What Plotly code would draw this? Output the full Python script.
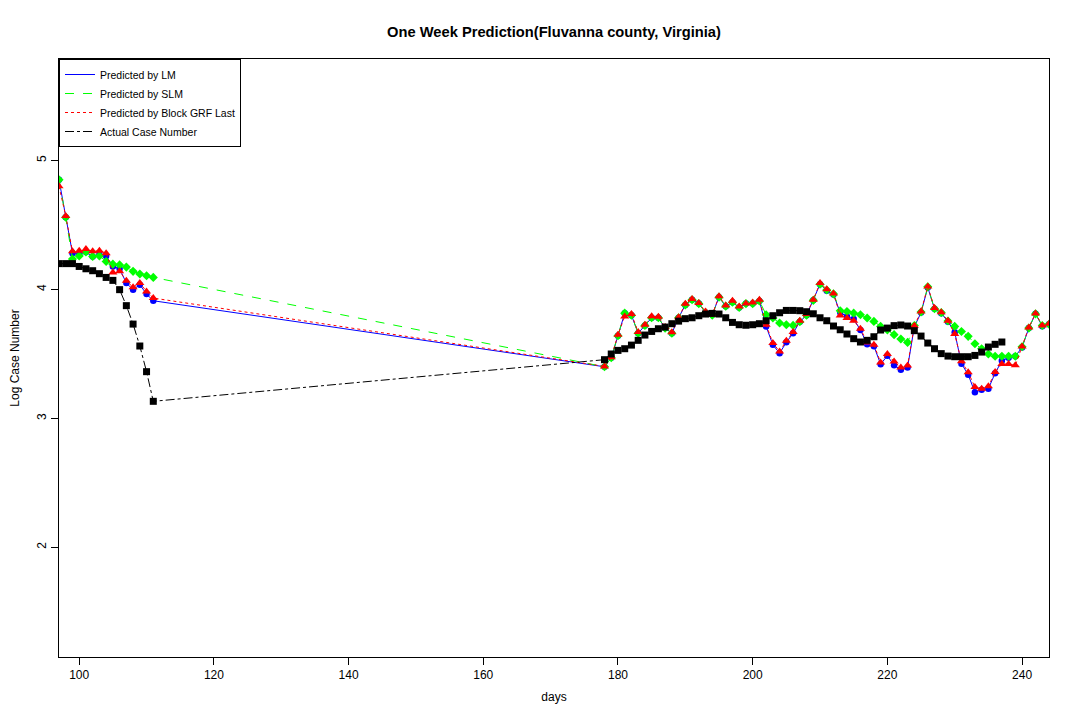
import plotly.graph_objects as go

# ---------------- data ----------------
days_left = list(range(97, 112))
days_right_pred = list(range(178, 245))
days_right_act = list(range(178, 238))

pred_days = days_left + days_right_pred
act_days = days_left + days_right_act

actual_left = [4.20, 4.20, 4.20, 4.178, 4.16, 4.145, 4.122, 4.093, 4.07, 3.998,
               3.874, 3.731, 3.561, 3.362, 3.132]
actual_right = [3.455, 3.499, 3.527, 3.540, 3.568, 3.605, 3.646, 3.674, 3.695, 3.708,
                3.734, 3.754, 3.773, 3.780, 3.796, 3.809, 3.814, 3.809, 3.780, 3.744,
                3.726, 3.722, 3.726, 3.734, 3.757, 3.796, 3.819, 3.837, 3.837, 3.835,
                3.827, 3.811, 3.780, 3.757, 3.716, 3.687, 3.654, 3.618, 3.592, 3.605,
                3.633, 3.685, 3.700, 3.719, 3.724, 3.716, 3.680, 3.638, 3.584, 3.540,
                3.502, 3.483, 3.478, 3.478, 3.478, 3.488, 3.514, 3.553, 3.574, 3.592]

lm_left = [4.85, 4.56, 4.28, 4.27, 4.29, 4.256, 4.27, 4.26, 4.178, 4.16,
           4.049, 3.998, 4.036, 3.964, 3.912]
lm_right = [3.40, 3.47, 3.64, 3.816, 3.80, 3.66, 3.72, 3.78, 3.78, 3.70,
            3.66, 3.78, 3.88, 3.92, 3.89, 3.82, 3.804, 3.94, 3.87, 3.90,
            3.86, 3.89, 3.89, 3.91, 3.713, 3.57, 3.505, 3.59, 3.66, 3.75,
            3.80, 3.915, 4.04, 3.99, 3.96, 3.82, 3.79, 3.77, 3.685, 3.575,
            3.56, 3.42, 3.485, 3.411, 3.377, 3.395, 3.71, 3.82, 4.015, 3.85,
            3.815, 3.75, 3.668, 3.424, 3.339, 3.202, 3.222, 3.23, 3.35, 3.447,
            3.47, 3.481, 3.55, 3.70, 3.811, 3.715, 3.73]

slm_left = [4.85, 4.56, 4.235, 4.26, 4.29, 4.256, 4.26, 4.217, 4.196, 4.19,
            4.173, 4.14, 4.12, 4.106, 4.093]
slm_right = [3.40, 3.47, 3.64, 3.816, 3.80, 3.66, 3.72, 3.78, 3.78, 3.70,
             3.66, 3.78, 3.88, 3.92, 3.89, 3.82, 3.80, 3.94, 3.87, 3.90,
             3.86, 3.89, 3.89, 3.91, 3.804, 3.778, 3.739, 3.726, 3.721, 3.75,
             3.80, 3.915, 4.04, 3.995, 3.965, 3.835, 3.829, 3.816, 3.804, 3.778,
             3.752, 3.713, 3.685, 3.649, 3.615, 3.589, 3.72, 3.825, 4.02, 3.85,
             3.82, 3.755, 3.713, 3.674, 3.636, 3.579, 3.540, 3.499, 3.481, 3.481,
             3.481, 3.481, 3.555, 3.70, 3.81, 3.72, 3.73]

grf_left = [4.80, 4.57, 4.295, 4.30, 4.313, 4.295, 4.30, 4.281, 4.132, 4.14,
            4.067, 4.016, 4.05, 3.984, 3.933]
grf_right = [3.403, 3.473, 3.649, 3.79, 3.809, 3.669, 3.726, 3.791, 3.788, 3.708,
             3.667, 3.785, 3.889, 3.925, 3.894, 3.829, 3.804, 3.946, 3.876, 3.912,
             3.868, 3.89, 3.899, 3.920, 3.726, 3.584, 3.519, 3.602, 3.669, 3.757,
             3.809, 3.920, 4.049, 4.002, 3.969, 3.798, 3.778, 3.757, 3.695, 3.589,
             3.571, 3.434, 3.499, 3.44, 3.395, 3.409, 3.718, 3.829, 4.023, 3.855,
             3.822, 3.757, 3.654, 3.442, 3.357, 3.243, 3.230, 3.248, 3.359, 3.421,
             3.421, 3.411, 3.558, 3.705, 3.814, 3.72, 3.733]

x_ticks = [100, 120, 140, 160, 180, 200, 220, 240]
y_ticks = [2, 3, 4, 5]

title_text = "One Week Prediction(Fluvanna county, Virginia)"
x_title = "days"
y_title = "Log Case Number"

series = [
    ("Predicted by LM", lm_left + lm_right, pred_days, "#0000FF", "solid", "circle", 6.5),
    ("Predicted by SLM", slm_left + slm_right, pred_days, "#00FF00", "dash", "diamond", 7),
    ("Predicted by Block GRF Last", grf_left + grf_right, pred_days, "#FF0000", "dot", "triangle-up", 8),
    ("Actual Case Number", actual_left + actual_right, act_days, "#000000", "dashdot", "square", 7),
]

FONT = "Liberation Sans, Arial, sans-serif"

fig = go.Figure()
for name, yv, xv, col, dash, sym, sz in series:
    fig.add_trace(go.Scatter(
        x=xv, y=yv, mode="lines", name=name, legendgroup=name,
        line=dict(color=col, width=1, dash=dash), showlegend=True))
    fig.add_trace(go.Scatter(
        x=xv, y=yv, mode="markers", name=name, legendgroup=name,
        marker=dict(color=col, symbol=sym, size=sz, line=dict(width=0)),
        showlegend=False))

fig.update_layout(
    width=1080, height=720,
    paper_bgcolor="white", plot_bgcolor="white",
    margin=dict(l=51, r=39, t=51, b=71, autoexpand=False),
    font=dict(family=FONT, size=12, color="black"),
    title=dict(text="<b>" + title_text + "</b>", x=0.5, xref="paper",
               y=1 - 24 / 720, yref="container", yanchor="middle",
               font=dict(size=14.7, family=FONT, color="black")),
    legend=dict(x=0, y=1, xanchor="left", yanchor="top",
                bgcolor="white", bordercolor="black", borderwidth=1,
                font=dict(size=10.5, family=FONT), tracegroupgap=0,
                itemwidth=30),
    showlegend=True,
)
fig.update_xaxes(
    range=[97, 244], tickvals=x_ticks, ticktext=[str(v) for v in x_ticks],
    showgrid=False, zeroline=False, showline=True, mirror=True,
    linecolor="black", linewidth=1, ticks="outside", ticklen=7,
    tickcolor="black", tickfont=dict(size=12),
    title=dict(text=x_title, standoff=11, font=dict(size=12)),
)
fig.update_yaxes(
    range=[1.149, 5.787], tickvals=y_ticks, ticktext=[str(v) for v in y_ticks],
    showgrid=False, zeroline=False, showline=True, mirror=True,
    linecolor="black", linewidth=1, ticks="outside", ticklen=7,
    tickcolor="black", tickangle=-90, tickfont=dict(size=12),
    title=dict(text=y_title, standoff=21, font=dict(size=12)),
)

fig.write_html("out.html")
